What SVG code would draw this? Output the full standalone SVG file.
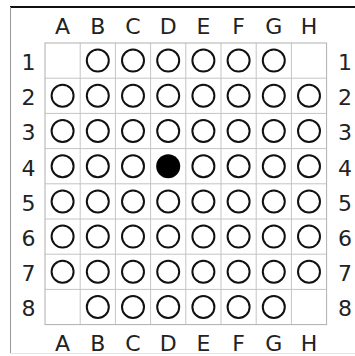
<svg xmlns="http://www.w3.org/2000/svg" width="355" height="356" viewBox="0 0 355 356">
<style>
.g{stroke:#c4c4c4;stroke-width:1;fill:none}
.b{stroke:#b0b0b0;stroke-width:1;fill:none}
.p{fill:#fff;stroke:#111;stroke-width:2}
.f{fill:#000}
text{font-family:"DejaVu Sans",Verdana,sans-serif;font-size:22px;fill:#222;text-anchor:middle}
</style>
<rect width="355" height="356" fill="#fff"/>
<line x1="10" y1="7" x2="355" y2="7" stroke="#111" stroke-width="2"/>
<line x1="10.5" y1="7" x2="10.5" y2="354" stroke="#999" stroke-width="1"/>
<line x1="10" y1="353.5" x2="355" y2="353.5" stroke="#e4e4e4" stroke-width="1"/>
<g id="grid">
<path class="g" d="M80.2 43V324.6M115.4 43V324.6M150.6 43V324.6M185.8 43V324.6M221 43V324.6M256.2 43V324.6M291.4 43V324.6M45 78.2H326.6M45 113.4H326.6M45 148.6H326.6M45 183.8H326.6M45 219H326.6M45 254.2H326.6M45 289.4H326.6"/>
<rect class="b" x="45" y="43" width="281.6" height="281.6"/>
</g>
<g id="labels">
<text x="62.6" y="34">A</text><text x="97.8" y="34">B</text><text x="133" y="34">C</text><text x="168.2" y="34">D</text><text x="203.4" y="34">E</text><text x="238.6" y="34">F</text><text x="273.8" y="34">G</text><text x="309" y="34">H</text>
<text x="62.6" y="350.5">A</text><text x="97.8" y="350.5">B</text><text x="133" y="350.5">C</text><text x="168.2" y="350.5">D</text><text x="203.4" y="350.5">E</text><text x="238.6" y="350.5">F</text><text x="273.8" y="350.5">G</text><text x="309" y="350.5">H</text>
<text x="28.5" y="70">1</text><text x="28.5" y="105.2">2</text><text x="28.5" y="140.4">3</text><text x="28.5" y="175.6">4</text><text x="28.5" y="210.8">5</text><text x="28.5" y="246">6</text><text x="28.5" y="281.2">7</text><text x="28.5" y="316.4">8</text>
<text x="345" y="70">1</text><text x="345" y="105.2">2</text><text x="345" y="140.4">3</text><text x="345" y="175.6">4</text><text x="345" y="210.8">5</text><text x="345" y="246">6</text><text x="345" y="281.2">7</text><text x="345" y="316.4">8</text>
</g>
<g id="pegs">
<g id="row1"><circle class="p" cx="97.8" cy="60.6" r="11"/><circle class="p" cx="133" cy="60.6" r="11"/><circle class="p" cx="168.2" cy="60.6" r="11"/><circle class="p" cx="203.4" cy="60.6" r="11"/><circle class="p" cx="238.6" cy="60.6" r="11"/><circle class="p" cx="273.8" cy="60.6" r="11"/></g>
<g id="row2"><circle class="p" cx="62.6" cy="95.8" r="11"/><circle class="p" cx="97.8" cy="95.8" r="11"/><circle class="p" cx="133" cy="95.8" r="11"/><circle class="p" cx="168.2" cy="95.8" r="11"/><circle class="p" cx="203.4" cy="95.8" r="11"/><circle class="p" cx="238.6" cy="95.8" r="11"/><circle class="p" cx="273.8" cy="95.8" r="11"/><circle class="p" cx="309" cy="95.8" r="11"/></g>
<g id="row3"><circle class="p" cx="62.6" cy="131" r="11"/><circle class="p" cx="97.8" cy="131" r="11"/><circle class="p" cx="133" cy="131" r="11"/><circle class="p" cx="168.2" cy="131" r="11"/><circle class="p" cx="203.4" cy="131" r="11"/><circle class="p" cx="238.6" cy="131" r="11"/><circle class="p" cx="273.8" cy="131" r="11"/><circle class="p" cx="309" cy="131" r="11"/></g>
<g id="row4"><circle class="p" cx="62.6" cy="166.2" r="11"/><circle class="p" cx="97.8" cy="166.2" r="11"/><circle class="p" cx="133" cy="166.2" r="11"/><circle class="f" cx="168.2" cy="166.2" r="12"/><circle class="p" cx="203.4" cy="166.2" r="11"/><circle class="p" cx="238.6" cy="166.2" r="11"/><circle class="p" cx="273.8" cy="166.2" r="11"/><circle class="p" cx="309" cy="166.2" r="11"/></g>
<g id="row5"><circle class="p" cx="62.6" cy="201.4" r="11"/><circle class="p" cx="97.8" cy="201.4" r="11"/><circle class="p" cx="133" cy="201.4" r="11"/><circle class="p" cx="168.2" cy="201.4" r="11"/><circle class="p" cx="203.4" cy="201.4" r="11"/><circle class="p" cx="238.6" cy="201.4" r="11"/><circle class="p" cx="273.8" cy="201.4" r="11"/><circle class="p" cx="309" cy="201.4" r="11"/></g>
<g id="row6"><circle class="p" cx="62.6" cy="236.6" r="11"/><circle class="p" cx="97.8" cy="236.6" r="11"/><circle class="p" cx="133" cy="236.6" r="11"/><circle class="p" cx="168.2" cy="236.6" r="11"/><circle class="p" cx="203.4" cy="236.6" r="11"/><circle class="p" cx="238.6" cy="236.6" r="11"/><circle class="p" cx="273.8" cy="236.6" r="11"/><circle class="p" cx="309" cy="236.6" r="11"/></g>
<g id="row7"><circle class="p" cx="62.6" cy="271.8" r="11"/><circle class="p" cx="97.8" cy="271.8" r="11"/><circle class="p" cx="133" cy="271.8" r="11"/><circle class="p" cx="168.2" cy="271.8" r="11"/><circle class="p" cx="203.4" cy="271.8" r="11"/><circle class="p" cx="238.6" cy="271.8" r="11"/><circle class="p" cx="273.8" cy="271.8" r="11"/><circle class="p" cx="309" cy="271.8" r="11"/></g>
<g id="row8"><circle class="p" cx="97.8" cy="307" r="11"/><circle class="p" cx="133" cy="307" r="11"/><circle class="p" cx="168.2" cy="307" r="11"/><circle class="p" cx="203.4" cy="307" r="11"/><circle class="p" cx="238.6" cy="307" r="11"/><circle class="p" cx="273.8" cy="307" r="11"/></g>
</g>
</svg>
